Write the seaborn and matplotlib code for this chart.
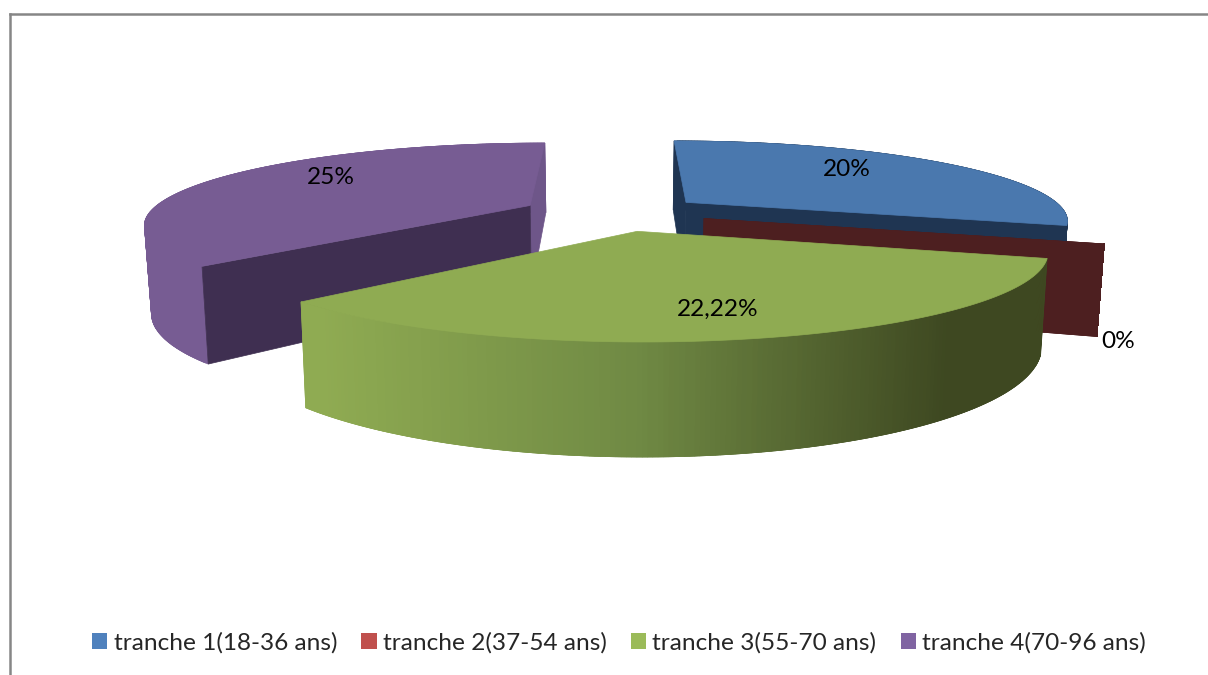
import numpy as np
import seaborn as sns
import matplotlib.pyplot as plt
from matplotlib.patches import Patch, Polygon

categories = ["tranche 1(18-36 ans)", "tranche 2(37-54 ans)", "tranche 3(55-70 ans)", "tranche 4(70-96 ans)"]
values = [20, 0, 22.22, 25]
value_labels = ["20%", "0%", "22,22%", "25%"]

sns.set_theme(style="white")
plt.rcParams['font.family'] = ['Lato', 'DejaVu Sans']

legend_colors = sns.color_palette(["#4F81BD", "#C0504D", "#9BBB59", "#8064A2"])
top_colors = ["#4A78AE", "#4D1F20", "#8FAB52", "#775C93"]
side_colors = ["#1F3552", "#4D1F20", None, "#3F2F51"]
back_wall_colors = ["#1F3552", "#4D1F20", None, "#6E5689"]
rim_colors = ["#1F3552", "#4D1F20", None, "#775C93"]
green_rim = sns.blend_palette(["#8FAB52", "#708A44", "#3E4821"], 200)

# fake perspective, fitted on the picture (pixels)
VX, VY, A, B, K, H = 616, 213, 381, 78.4, 0.21, 85.5
explode = [0.235, 0.238, 0.229, 0.25]


def project(wx, wy, bottom=False):
    s = 1 / (1 + K * wy)
    x = VX + A * wx * s
    y = VY - B * wy * s
    if bottom:
        x = VX + 0.985 * (x - VX)
        y = y + H * s
    return np.column_stack([np.atleast_1d(x), np.atleast_1d(y)])


fig = plt.figure(figsize=(12.08, 6.75), dpi=100)
ax = fig.add_axes([10 / 1208, 0, 1198 / 1208, 661 / 675])
ax.set_xlim(10, 1208)
ax.set_ylim(675, 14)
ax.set_xticks([])
ax.set_yticks([])
for name in ["right", "bottom"]:
    ax.spines[name].set_visible(False)
for name in ["left", "top"]:
    ax.spines[name].set_color("#868686")
    ax.spines[name].set_linewidth(1.8)

# slice angles, clockwise from the top like the original
fractions = np.array(values) / sum(values) * 2 * np.pi
ends = np.cumsum(fractions)
starts = ends - fractions


def poly(pts, color, z):
    ax.add_patch(Polygon(pts, closed=True, facecolor=color, edgecolor=color, lw=0.5, zorder=z))


for order, i in enumerate([3, 0, 1, 2]):
    z = 2 + order
    mid = (starts[i] + ends[i]) / 2
    cx = explode[i] * np.sin(mid)
    cy = explode[i] * np.cos(mid)
    th = np.linspace(starts[i], ends[i], 200)
    rx = cx + np.sin(th)
    ry = cy + np.cos(th)

    top_c = project(cx, cy)
    bot_c = project(cx, cy, True)
    rim_top = project(rx, ry)
    rim_bot = project(rx, ry, True)

    # outer wall, in small quads so it can fold round the edge
    xs = (rim_top[:, 0] - 320) / (950 - 320)
    for j in range(len(th) - 1):
        if rim_colors[i] is None:
            c = green_rim[int(np.clip(xs[j], 0, 1) * 199)]
        else:
            c = rim_colors[i]
        poly(np.vstack([rim_top[j:j + 3], rim_bot[j:j + 3][::-1]]), c, z)

    # radial walls (the front slice never shows them)
    if side_colors[i] is not None:
        poly(np.vstack([top_c, rim_top[-1:], rim_bot[-1:], bot_c]), back_wall_colors[i], z)
        poly(np.vstack([top_c, rim_top[:1], rim_bot[:1], bot_c]), side_colors[i], z)

    # top face
    poly(np.vstack([top_c, rim_top]), top_colors[i], z)

label_xy = [(847, 169), (1118, 342), (718, 309), (331, 178)]
for txt, (x, y) in zip(value_labels, label_xy):
    ax.text(x, y, txt, fontsize=17.6, color="black", ha="center", va="center", zorder=10)

handles = [Patch(facecolor=c, edgecolor="none") for c in legend_colors]
ax.legend(handles, categories, loc="center", bbox_to_anchor=(619, 643), bbox_transform=ax.transData,
          ncol=4, frameon=False, fontsize=17.6, handlelength=0.62, handleheight=0.62,
          handletextpad=0.25, columnspacing=1.0, borderpad=0)

fig.savefig("out.png", dpi=100)
